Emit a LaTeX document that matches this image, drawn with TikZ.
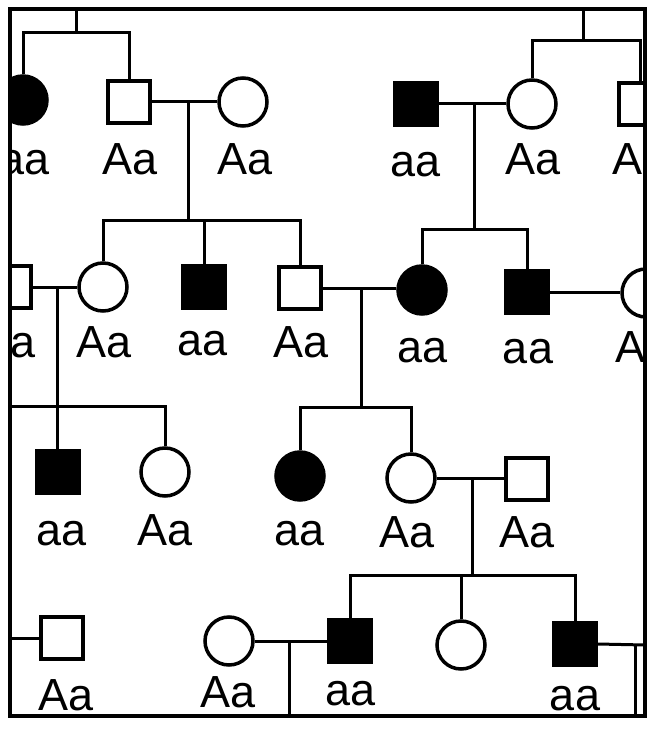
\documentclass[tikz,border=0pt]{standalone}
\usepackage{fontspec}
\setmainfont{Liberation Sans}
\begin{document}
\begin{tikzpicture}[x=1pt,y=-1pt,
  male/.style={draw, line width=3.5pt, minimum size=42pt, inner sep=0pt, fill=white},
  affm/.style={male, fill=black},
  fem/.style={circle, draw, line width=3.5pt, minimum size=48pt, inner sep=0pt, fill=white},
  afff/.style={fem, fill=black},
  gt/.style={font=\fontsize{45}{50}\selectfont, anchor=base, inner sep=0pt},
  conn/.style={line width=3pt},
  frame/.style={line width=3.5pt}]
\useasboundingbox (0,0) rectangle (654,730);
\begin{scope}
\clip (10,9) rectangle (645,716);
% ---------- row 1
\node[afff] (f1) at (23,100) {};
\node[male] (m1) at (129,102) {};
\node[fem]  (f2) at (243,102) {};
\node[affm] (m2) at (416,104) {};
\node[fem]  (f3) at (532,104) {};
\node[male] (m3) at (640,104) {};
% ---------- row 2
\node[male] (m4) at (10,287) {};
\node[fem]  (f4) at (103,287) {};
\node[affm] (m5) at (204,287) {};
\node[male] (m6) at (300,288) {};
\node[afff] (f5) at (422,290) {};
\node[affm] (m7) at (527,292) {};
\node[fem]  (f6) at (646,293) {};
% ---------- row 3
\node[affm] (m8) at (58,472) {};
\node[fem]  (f7) at (165,472) {};
\node[afff] (f8) at (300,476) {};
\node[fem]  (f9) at (411,478) {};
\node[male] (m9) at (527,479) {};
% ---------- row 4
\node[male] (m10) at (62,638) {};
\node[fem]  (f10) at (229,641) {};
\node[affm] (m11) at (350,641) {};
\node[fem]  (f11) at (461,645) {};
\node[affm] (m12) at (575,644) {};
% ---------- coordinates
\coordinate (t1) at (76,9);
\coordinate (s1) at (76,33);
\coordinate (t2) at (583,9);
\coordinate (s1r) at (583,41);
\coordinate (d1) at (188,102);
\coordinate (s2) at (188,220);
\coordinate (d1r) at (474,104);
\coordinate (s2r) at (474,229);
\coordinate (d2) at (57,287);
\coordinate (d2r) at (361,288);
\coordinate (s3) at (361,407);
\coordinate (l3) at (10,406);
\coordinate (d3) at (472,478);
\coordinate (s4) at (472,575);
\coordinate (d4) at (289,642);
\coordinate (b4) at (289,716);
\coordinate (r4) at (645,645);
\coordinate (e4) at (635,645);
\coordinate (be4) at (635,716);
% ---------- connectors row 1
\draw[conn] (t1) -- (s1);
\draw[conn] (f1.north) |- (s1) -| (m1.north);
\draw[conn] (m1.east) -- (f2.west);
\draw[conn] (t2) -- (s1r);
\draw[conn] (f3.north) |- (s1r) -| (m3.north);
\draw[conn] (m2.east) -- (f3.west);
% ---------- connectors row 2
\draw[conn] (d1) -- (s2);
\draw[conn] (f4.north) |- (s2) -| (m6.north);
\draw[conn] (m5.north) -- (m5.north |- s2);
\draw[conn] (d1r) -- (s2r);
\draw[conn] (f5.north) |- (s2r) -| (m7.north);
\draw[conn] (m4.east) -- (f4.west);
\draw[conn] (m6.east) -- (m6.east -| f5.west);
\draw[conn] (m7.east) -- (m7.east -| f6.west);
% ---------- connectors row 3
\draw[conn] (d2) -- (d2 |- m8.north);
\draw[conn] (l3) -| (f7.north);
\draw[conn] (d2r) -- (s3);
\draw[conn] (f8.north) |- (s3) -| (f9.north);
\draw[conn] (f9.east) -- (f9.east -| m9.west);
% ---------- connectors row 4
\draw[conn] (d3) -- (s4);
\draw[conn] (m11.north) |- (s4) -| (m12.north);
\draw[conn] (f11.north) -- (f11.north |- s4);
\draw[conn] (10,638) -- (m10.west);
\draw[conn] (f10.east) -- (f10.east -| m11.west);
\draw[conn] (d4) -- (b4);
\draw[conn] (m12.east) -- (r4);
\draw[conn] (e4) -- (be4);
% ---------- genotype labels
\node[gt] (g1)  at (25,175)  {aa};
\node[gt] (g2)  at (130,175) {Aa};
\node[gt] (g3)  at (245,175) {Aa};
\node[gt] (g4)  at (416,177) {aa};
\node[gt] (g5)  at (533,175) {Aa};
\node[gt] (g6)  at (640,175) {Aa};
\node[gt] (g7)  at (8,357)   {Aa};
\node[gt] (g8)  at (104,357) {Aa};
\node[gt] (g9)  at (203,355) {aa};
\node[gt] (g10) at (301,357) {Aa};
\node[gt] (g11) at (423,362) {aa};
\node[gt] (g12) at (528,363) {aa};
\node[gt] (g13) at (643,362) {Aa};
\node[gt] (g14) at (62,545)  {aa};
\node[gt] (g15) at (165,545) {Aa};
\node[gt] (g16) at (300,545) {aa};
\node[gt] (g17) at (407,547) {Aa};
\node[gt] (g18) at (527,547) {Aa};
\node[gt] (g19) at (66,710)  {Aa};
\node[gt] (g20) at (228,707) {Aa};
\node[gt] (g21) at (351,705) {aa};
\node[gt] (g22) at (575,710) {aa};
\end{scope}
\draw[frame] (10,9) rectangle (645,716);
\end{tikzpicture}
\end{document}
